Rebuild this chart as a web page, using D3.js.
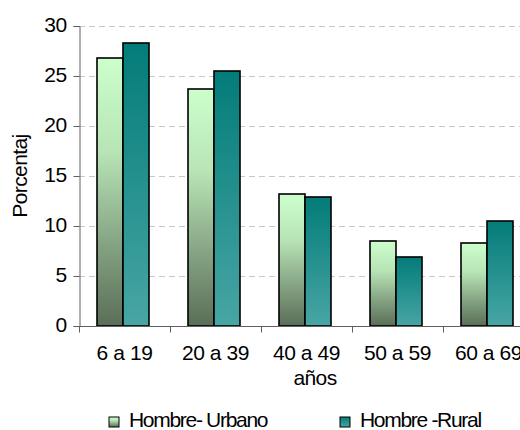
<!DOCTYPE html>
<html>
<head>
<meta charset="utf-8">
<script src="https://cdn.jsdelivr.net/npm/d3@7"></script>
<style>
html,body{margin:0;padding:0;background:#fff;overflow:hidden;}
svg{display:block;font-family:"Liberation Sans",Arial,sans-serif;}
</style>
</head>
<body>
<svg id="chart" width="520" height="430"></svg>
<script>
const categories = ["6 a 19", "20 a 39", "40 a 49", "50 a 59", "60 a 69"];
const seriesNames = ["Hombre- Urbano", "Hombre -Rural"];
const urbano = [26.8, 23.7, 13.2, 8.5, 8.3];
const rural = [28.3, 25.5, 12.9, 6.9, 10.5];
const yTicks = [0, 5, 10, 15, 20, 25, 30];
const yLabel = "Porcentaj";
const xLabel = "años";

const svg = d3.select("#chart");
const defs = svg.append("defs");

const g1 = defs.append("linearGradient").attr("id", "gUrb").attr("x1", 0).attr("y1", 0).attr("x2", 0).attr("y2", 1);
g1.append("stop").attr("offset", "0%").attr("stop-color", "#ccffcc");
g1.append("stop").attr("offset", "35%").attr("stop-color", "#b8e4b6");
g1.append("stop").attr("offset", "70%").attr("stop-color", "#84a282");
g1.append("stop").attr("offset", "100%").attr("stop-color", "#5a6e57");
const g2 = defs.append("linearGradient").attr("id", "gRur").attr("x1", 0).attr("y1", 0).attr("x2", 0).attr("y2", 1);
g2.append("stop").attr("offset", "0%").attr("stop-color", "#037c79");
g2.append("stop").attr("offset", "100%").attr("stop-color", "#48a6a4");
const fills = ["url(#gUrb)", "url(#gRur)"];

const x0 = d3.scaleBand().domain(categories).range([79, 534]).paddingInner(0).paddingOuter(0);
const x1 = d3.scaleBand().domain(seriesNames).range([18, 70]);
const y = d3.scaleLinear().domain([0, 30]).range([326, 26]);

// gridlines
svg.append("g").selectAll("line").data(yTicks.filter(d => d > 0)).join("line")
  .attr("x1", 79).attr("x2", 534)
  .attr("y1", d => y(d) + 0.5).attr("y2", d => y(d) + 0.5)
  .attr("stroke", "#c8c8c8").attr("stroke-width", 1).attr("stroke-dasharray", "6,4");

// bars
const data = categories.map((c, i) => ({cat: c, vals: [urbano[i], rural[i]]}));
const groups = svg.append("g").selectAll("g").data(data).join("g")
  .attr("transform", d => `translate(${x0(d.cat)},0)`);
groups.selectAll("rect").data(d => d.vals.map((v, j) => ({s: seriesNames[j], v, j}))).join("rect")
  .attr("x", d => x1(d.s))
  .attr("y", d => y(d.v))
  .attr("width", x1.bandwidth())
  .attr("height", d => y(0) - y(d.v))
  .attr("fill", d => fills[d.j])
  .attr("stroke", "#000").attr("stroke-width", 1.6);

// y axis
const yAxis = d3.axisLeft(y).tickValues(yTicks).tickSize(6).tickPadding(7);
const ya = svg.append("g").attr("transform", "translate(79.5,0)").call(yAxis);
ya.select(".domain").attr("stroke", "#606060");
ya.selectAll(".tick line").attr("stroke", "#606060");
ya.selectAll("text").attr("font-size", 21).attr("fill", "#000").attr("font-family", "Liberation Sans, Arial, sans-serif").attr("letter-spacing", "-0.6px").attr("dy", "0.28em");

// x axis
const xAxis = d3.axisBottom(x0).tickSize(0).tickPadding(19);
const xa = svg.append("g").attr("transform", "translate(0,326.5)").call(xAxis);
xa.select(".domain").attr("stroke", "#606060").attr("d", "M79,0H534");
xa.selectAll("text").attr("font-size", 21).attr("fill", "#000").attr("font-family", "Liberation Sans, Arial, sans-serif").attr("letter-spacing", "-0.4px");
xa.selectAll(".sep").data(categories.concat(["end"])).join("line").attr("class", "sep")
  .attr("x1", (d, i) => (i < categories.length ? x0(d) : 534) + 0.5)
  .attr("x2", (d, i) => (i < categories.length ? x0(d) : 534) + 0.5)
  .attr("y1", 0).attr("y2", 6).attr("stroke", "#606060");

// axis titles
svg.append("text").attr("x", 315).attr("y", 385).attr("text-anchor", "middle")
  .attr("font-size", 21).attr("letter-spacing", "-0.6px").text(xLabel);
svg.append("text").attr("transform", "translate(27,176) rotate(-90)").attr("text-anchor", "middle")
  .attr("font-size", 21).attr("letter-spacing", "-0.6px").text(yLabel);

// legend
const legX = [109, 340];
const leg = svg.append("g").selectAll("g").data(seriesNames).join("g")
  .attr("transform", (d, i) => `translate(${legX[i]},417)`);
leg.append("rect").attr("width", 10).attr("height", 10)
  .attr("fill", (d, i) => fills[i]).attr("stroke", "#000").attr("stroke-width", 1);
leg.append("text").attr("x", 20).attr("y", 10).attr("font-size", 21)
  .attr("letter-spacing", "-1.3px").text(d => d);
</script>
</body>
</html>
